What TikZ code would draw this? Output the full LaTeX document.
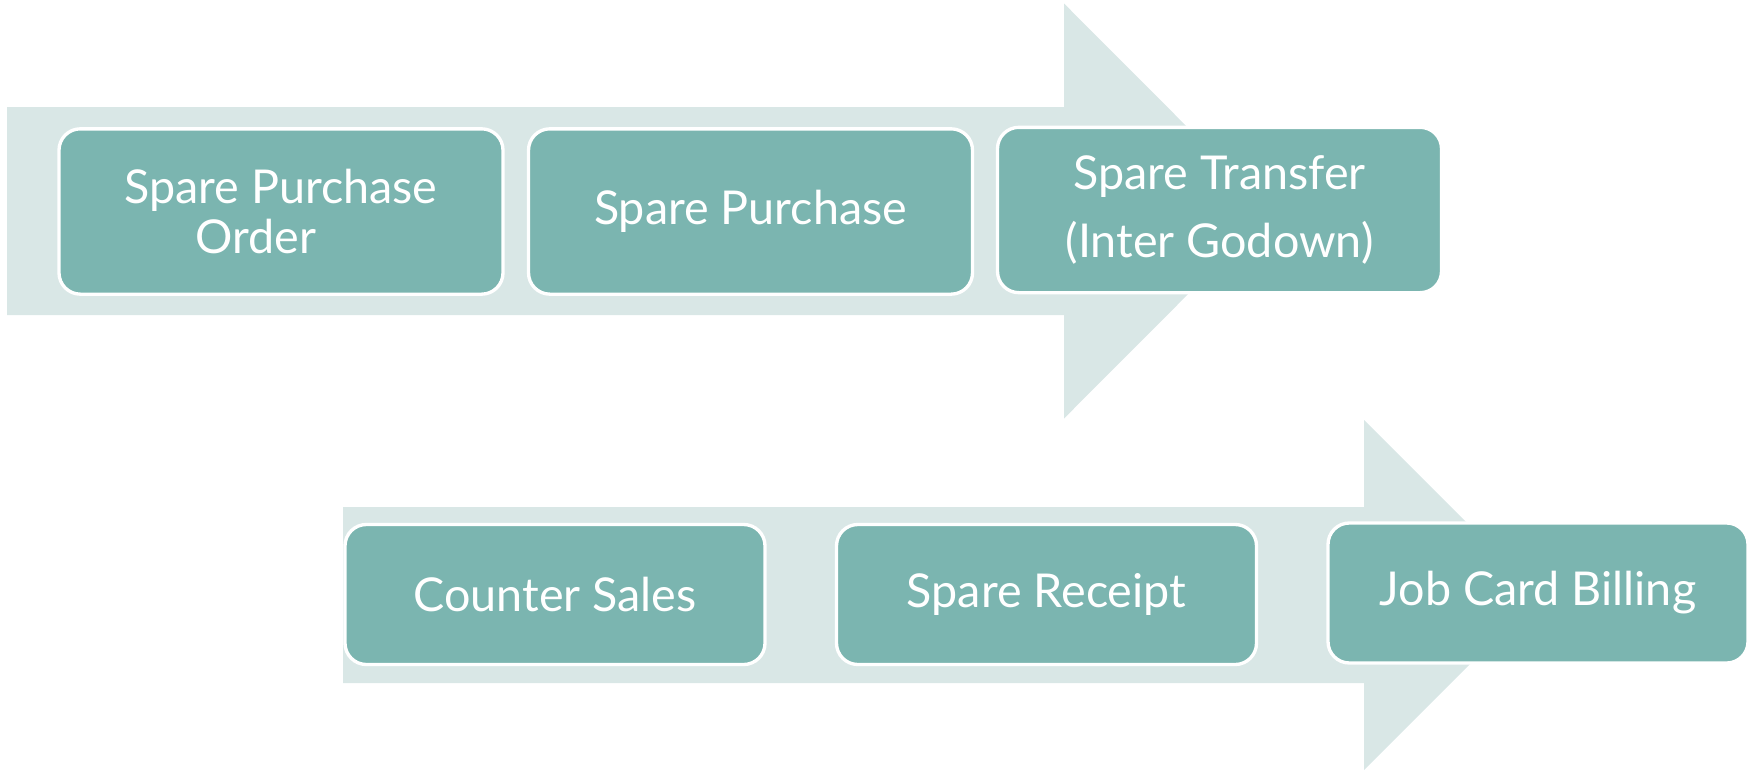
\documentclass[tikz,border=0pt]{standalone}
\usepackage{fontspec}
\setmainfont{Lato}

\definecolor{arrowpale}{RGB}{217,231,230}
\definecolor{boxteal}{RGB}{123,181,176}

\tikzset{every picture/.style={line width=0.75pt}}
\tikzset{
  stepbox/.style={draw=white, line width=2.5pt, fill=boxteal, rounded corners=16pt,
    text=white, align=center, inner sep=0pt,
    font=\fontsize{35}{37.5}\selectfont},
  topbox/.style={stepbox, minimum width=333pt, minimum height=124pt},
  lowbox/.style={stepbox, minimum width=315pt, minimum height=105pt}
}

\begin{document}
\begin{tikzpicture}[x=0.75pt,y=0.75pt,yscale=-1]
\path[use as bounding box] (0,0) rectangle (1758,771);

%Shape: Right Arrow [top row]
\fill [arrowpale] (7,107) -- (1064,107) -- (1064,3.5) -- (1271,211) -- (1064,418.5) -- (1064,315) -- (7,315) -- cycle ;

%Shape: Right Arrow [bottom row]
\fill [arrowpale] (343,507) -- (1364,507) -- (1364,420) -- (1539,595) -- (1364,770) -- (1364,683) -- (343,683) -- cycle ;

% Text Node
\node [topbox] (spo) at (281,211.5) {Spare Purchase\\Order\hspace*{38pt}};
% Text Node
\node [topbox] (sp) at (750.5,211.5) {Spare Purchase};
% Text Node
\node [topbox] (st) at (1219.5,210) {Spare Transfer\\[14pt](Inter Godown)};

% Text Node
\node [lowbox] (cs) at (555,594.5) {Counter Sales};
% Text Node
\node [lowbox] (sr) at (1046.5,594.5) {Spare Receipt};
% Text Node
\node [lowbox] (jcb) at (1538,593) {Job Card Billing};

\end{tikzpicture}
\end{document}
